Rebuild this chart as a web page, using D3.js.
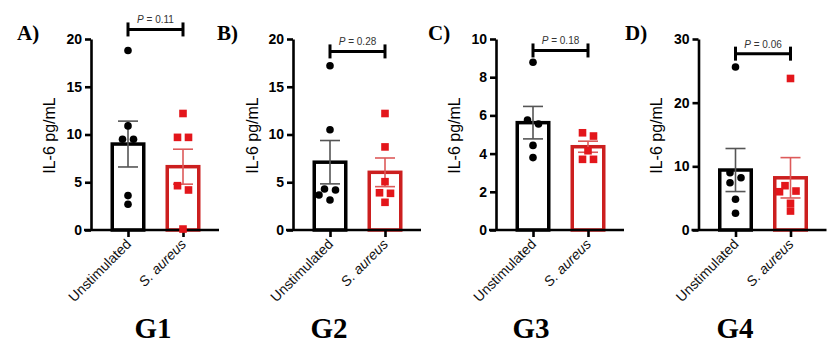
<!DOCTYPE html>
<html><head><meta charset="utf-8">
<script src="https://cdn.jsdelivr.net/npm/d3@7"></script>
<style>body{margin:0;background:#fff}</style>
</head><body><svg id="c" width="837" height="364"></svg>
<script>
// ---- data ----
const categories = ["Unstimulated", "S. aureus"];
const panelLetters = ["A)", "B)", "C)", "D)"];
const groupNames = ["G1", "G2", "G3", "G4"];
const yMax = [20, 20, 10, 30];
const yTicks = [[0,5,10,15,20],[0,5,10,15,20],[0,2,4,6,8,10],[0,10,20,30]];
const pLabels = ["0.11", "0.28", "0.18", "0.06"];
const pBracketLevel = [21.0, 18.7, 9.4, 27.7];
const unstimPoints = [
  [18.8, 10.9, 9.5, 9.5, 3.6, 2.7],
  [17.2, 10.5, 4.19, 4.29, 3.66, 3.14],
  [8.78, 5.76, 5.55, 4.43, 3.79],
  [25.6, 9.0, 8.2, 7.43, 4.82, 2.62]
];
const aureusPoints = [
  [12.2, 9.7, 9.7, 4.64, 4.19, 0.1],
  [12.2, 8.7, 5.06, 3.9, 3.84, 2.9],
  [5.09, 4.92, 4.15, 3.7, 3.7],
  [23.8, 6.96, 6.12, 6.01, 4.19, 2.98]
];
const unstimMean = [9.0, 7.1, 5.62, 9.42];
const unstimSEM  = [2.4, 2.27, 0.85, 3.38];
const aureusMean = [6.63, 6.04, 4.36, 8.2];
const aureusSEM  = [1.83, 1.5, 0.29, 3.17];

// ---- layout / style ----
const L = {
  xStart: [84, 286, 489, 691.5], yAxisOff: 7, yTop: 39, yBottom: 230,
  axisLen: 135, cat0: 44, cat1: 99,
  letterX: [17, 217, 428, 625], letterY: 40,
  ylabX: [49, 252, 454, 656], groupX: [153, 329, 531, 735], groupY: 338
};
const colBlack = "#000", colRed = "#e3161b", colRedBar = "#cc1f1f", colRedErr = "#dd5a5a", colGrayErr = "#555";

const svg = d3.select("#c");
svg.append("rect").attr("width", 837).attr("height", 364).attr("fill", "#fff");

function swarm(vals, y, cx, D = 7.6, T = 5.5, s = 11) {
  const items = vals.map(v => ({ v, py: y(v) })).sort((a, b) => a.py - b.py);
  const rows = [];
  items.forEach(it => {
    const r = rows[rows.length - 1];
    if (r && it.py - r[0].py < T) r.push(it); else rows.push([it]);
  });
  const placed = [];
  rows.forEach(r => {
    const n = r.length;
    const base = r.map((it, k) => (k - (n - 1) / 2) * s);
    const shifts = [0, -s/2, s/2, -s, s, -1.5*s, 1.5*s];
    let chosen = 0;
    for (const sh of shifts) {
      const ok = r.every((it, k) => placed.every(p => Math.hypot(p.x - (cx + base[k] + sh), p.py - it.py) >= D));
      if (ok) { chosen = sh; break; }
    }
    r.forEach((it, k) => { it.x = cx + base[k] + chosen; placed.push(it); });
  });
  return placed;
}

for (let i = 0; i < 4; i++) {
  const g = svg.append("g");
  const xs = L.xStart[i], yax = xs + L.yAxisOff;
  const y = d3.scaleLinear().domain([0, yMax[i]]).range([L.yBottom, L.yTop]);
  const x = d3.scalePoint().domain(categories).range([xs + L.cat0, xs + L.cat1]);

  // bars
  const means = [unstimMean[i], aureusMean[i]];
  const sems = [unstimSEM[i], aureusSEM[i]];
  const pts = [unstimPoints[i], aureusPoints[i]];
  const strokeC = [colBlack, colRedBar], errC = [colGrayErr, colRedErr];
  categories.forEach((c, k) => {
    const cx = x(c);
    g.append("rect").attr("x", cx - 15.75).attr("width", 31.5)
      .attr("y", y(means[k])).attr("height", L.yBottom - y(means[k]))
      .attr("fill", "#fff").attr("stroke", strokeC[k]).attr("stroke-width", 3.5);
    const eg = g.append("g").attr("stroke", errC[k]).attr("stroke-width", 1.6);
    eg.append("line").attr("x1", cx).attr("x2", cx).attr("y1", y(means[k] + sems[k])).attr("y2", y(means[k] - sems[k]));
    [means[k] + sems[k], means[k] - sems[k]].forEach(v =>
      eg.append("line").attr("x1", cx - 10).attr("x2", cx + 10).attr("y1", y(v)).attr("y2", y(v)));
  });

  // axes
  const ya = g.append("g").attr("transform", `translate(${yax},0)`)
    .call(d3.axisLeft(y).tickValues(yTicks[i]).tickSize(6).tickSizeOuter(0).tickPadding(3));
  ya.select(".domain").attr("stroke-width", 2.6);
  ya.selectAll(".tick line").attr("stroke-width", 2.6);
  ya.selectAll(".tick text").attr("font-family", "Liberation Sans, Arial, sans-serif")
    .attr("font-size", 14).attr("font-weight", "bold").attr("fill", "#000");

  g.append("line").attr("x1", xs).attr("x2", xs + L.axisLen).attr("y1", L.yBottom).attr("y2", L.yBottom)
    .attr("stroke", "#000").attr("stroke-width", 2.6);
  const xa = g.append("g").attr("transform", `translate(0,${L.yBottom})`)
    .call(d3.axisBottom(x).tickSize(7).tickSizeOuter(0).tickFormat(""));
  xa.select(".domain").remove();
  xa.selectAll(".tick line").attr("stroke-width", 2.6);

  categories.forEach((c, k) => {
    g.append("text").attr("transform", `translate(${x(c) + 4},${L.yBottom + 15}) rotate(-45)`)
      .attr("text-anchor", "end").attr("font-family", "Liberation Sans, Arial, sans-serif")
      .attr("font-size", 14).attr("font-style", k === 1 ? "italic" : "normal").attr("fill", "#111").text(c);
  });

  // points (on top)
  categories.forEach((c, k) => {
    const placed = swarm(pts[k], y, x(c));
    if (k === 0) {
      g.selectAll(null).data(placed).join("circle").attr("cx", d => d.x).attr("cy", d => d.py)
        .attr("r", 3.8).attr("fill", "#000");
    } else {
      g.selectAll(null).data(placed).join("rect").attr("x", d => d.x - 3.8).attr("y", d => d.py - 3.8)
        .attr("width", 7.6).attr("height", 7.6).attr("fill", colRed);
    }
  });

  // p bracket
  const by = y(pBracketLevel[i]);
  const x0 = x(categories[0]), x1 = x(categories[1]);
  const bg = g.append("g").attr("stroke", "#000").attr("stroke-width", 3);
  bg.append("line").attr("x1", x0).attr("x2", x1).attr("y1", by).attr("y2", by);
  [x0, x1].forEach(xx => bg.append("line").attr("x1", xx).attr("x2", xx).attr("y1", by - 7).attr("y2", by + 7));
  const pt = g.append("text").attr("x", (x0 + x1) / 2).attr("y", by - 6).attr("text-anchor", "middle")
    .attr("font-family", "Liberation Sans, Arial, sans-serif").attr("font-size", 10).attr("fill", "#333");
  pt.append("tspan").attr("font-style", "italic").text("P");
  pt.append("tspan").text(" = " + pLabels[i]);

  // y label
  g.append("text").attr("transform", `translate(${L.ylabX[i]},${(L.yTop + L.yBottom) / 2 + 1}) rotate(-90)`)
    .attr("text-anchor", "middle").attr("dy", "0.35em")
    .attr("font-family", "Liberation Sans, Arial, sans-serif").attr("font-size", 16).attr("fill", "#000")
    .text("IL-6 pg/mL");

  // panel letter
  g.append("text").attr("x", L.letterX[i]).attr("y", L.letterY)
    .attr("font-family", "Liberation Serif, Times New Roman, serif").attr("font-weight", "bold")
    .attr("font-size", 21).attr("fill", "#000").text(panelLetters[i]);

  // group label
  g.append("text").attr("x", L.groupX[i]).attr("y", L.groupY).attr("text-anchor", "middle")
    .attr("font-family", "Liberation Serif, Times New Roman, serif").attr("font-weight", "bold")
    .attr("font-size", 29).attr("fill", "#000").text(groupNames[i]);
}
</script></body></html>
